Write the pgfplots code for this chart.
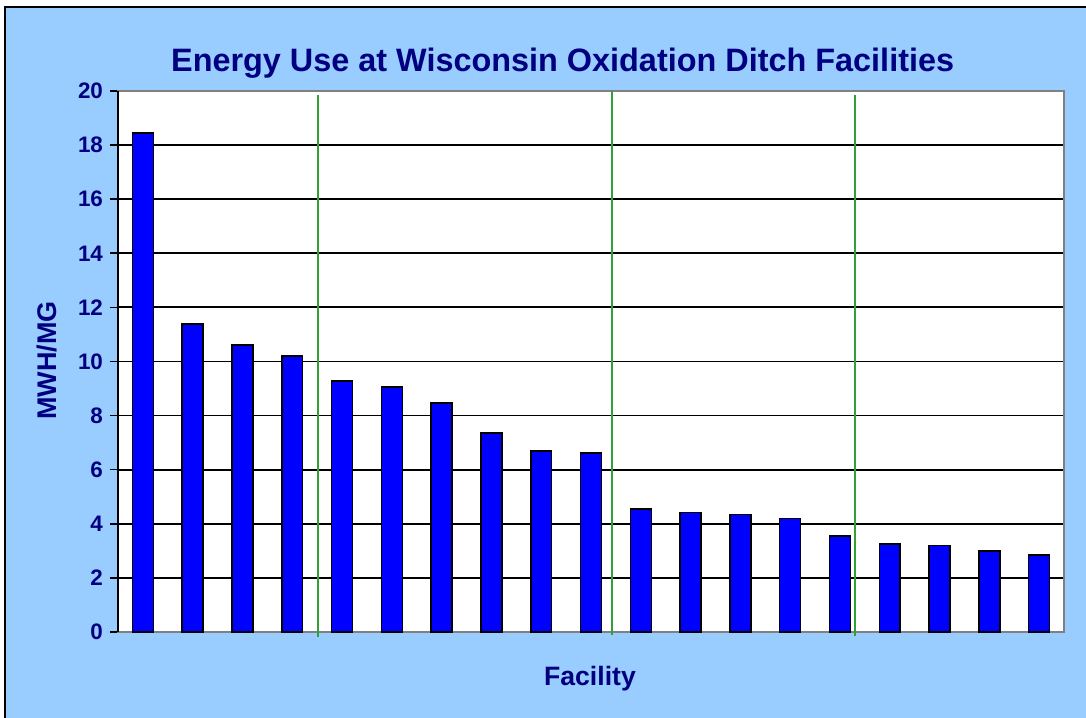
\documentclass[border=0pt]{standalone}
\usepackage{fontspec}
\setmainfont{Liberation Sans}
\usepackage{pgfplots}
\pgfplotsset{compat=1.18}
\definecolor{bgblue}{RGB}{153,204,255}
\definecolor{navy}{RGB}{0,0,128}
\definecolor{barblue}{RGB}{0,0,255}
\definecolor{ditchgreen}{RGB}{50,160,50}
\begin{document}
\begin{tikzpicture}
\useasboundingbox (-59pt,-42.5pt) rectangle (484pt,316pt);
\fill[white] (-59pt,-42.5pt) rectangle (484pt,316pt);
\filldraw[fill=bgblue, draw=black, line width=1pt] (-56.5pt,-50pt) rectangle (495pt,312.5pt);
\begin{axis}[
  at={(0,0)}, anchor=south west,
  scale only axis, width=473pt, height=270.5pt,
  xmin=-0.5, xmax=18.5, ymin=0, ymax=20,
  ybar, bar width=0.42,
  ytick={0,2,...,20}, xtick=\empty, ytick pos=left,
  ymajorgrids, grid style={black, line width=0.9pt},
  axis line style={gray, line width=0.8pt},
  axis background/.style={fill=white},
  tick align=outside, major tick length=4pt,
  tick style={black, line width=0.8pt},
  yticklabel style={font=\bfseries\fontsize{11.2}{13}\selectfont, text=navy},
  /pgf/number format/assume math mode=true,
  clip=false,
]
\addplot[fill=barblue, draw=black, line width=0.75pt] coordinates {
 (0,18.45) (1,11.39) (2,10.61) (3,10.20) (4,9.28) (5,9.06) (6,8.47)
 (7,7.36) (8,6.69) (9,6.62) (10,4.55) (11,4.41) (12,4.34) (13,4.19)
 (14,3.55) (15,3.25) (16,3.19) (17,2.99) (18,2.85)};
\addplot[sharp plot, ditchgreen, line width=1pt] coordinates {(3.51,-0.18) (3.51,19.87)};
\addplot[sharp plot, ditchgreen, line width=1pt] coordinates {(9.42,-0.12) (9.42,20)};
\addplot[sharp plot, ditchgreen, line width=1pt] coordinates {(14.30,-0.15) (14.30,19.85)};
\draw[black, line width=0.8pt] (rel axis cs:0,0) -- (rel axis cs:0,1);
\node[font=\bfseries\fontsize{16.2}{19}\selectfont, text=navy] at (rel axis cs:0.470,1.052) {Energy Use at Wisconsin Oxidation Ditch Facilities};
\node[font=\bfseries\fontsize{13.3}{16}\selectfont, text=navy] at (rel axis cs:0.4989,-0.087) {Facility};
\node[font=\bfseries\fontsize{13.5}{16}\selectfont, text=navy, rotate=90] at (rel axis cs:-0.0751,0.502) {MWH/MG};
\end{axis}
\end{tikzpicture}
\end{document}
